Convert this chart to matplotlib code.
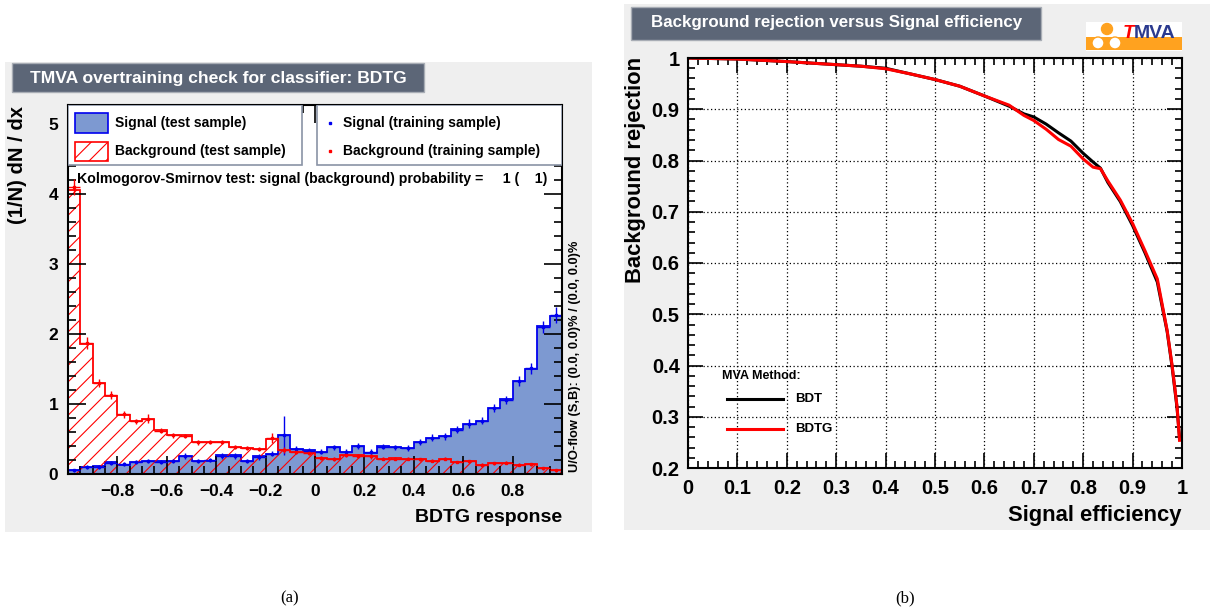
#Overtraining check (BDTG response) and ROC curve (BDT vs BDTG), TMVA style
import matplotlib
matplotlib.use("Agg")
import matplotlib.pyplot as plt
from matplotlib.patches import Rectangle, Ellipse
from matplotlib.ticker import MultipleLocator
import numpy as np

W, H = 1213, 614

# ---- left panel data: 40 bins from -1 to 1 ----
bin_edges = np.linspace(-1, 1, 41)
sig_test = [0.05, 0.10, 0.11, 0.17, 0.135, 0.17, 0.18, 0.18, 0.19, 0.25,
            0.19, 0.19, 0.265, 0.265, 0.19, 0.25, 0.29, 0.55, 0.36, 0.34,
            0.32, 0.385, 0.32, 0.40, 0.30, 0.395, 0.385, 0.375, 0.46, 0.52,
            0.54, 0.64, 0.71, 0.76, 0.94, 1.07, 1.33, 1.50, 2.11, 2.25]
bkg_test = [4.06, 1.85, 1.30, 1.12, 0.84, 0.76, 0.78, 0.625, 0.55, 0.55,
            0.45, 0.45, 0.46, 0.39, 0.375, 0.36, 0.50, 0.34, 0.32, 0.31,
            0.23, 0.22, 0.27, 0.265, 0.255, 0.22, 0.225, 0.215, 0.215, 0.18,
            0.215, 0.17, 0.18, 0.13, 0.15, 0.155, 0.13, 0.14, 0.08, 0.05]
sig_train = [0.05, 0.10, 0.10, 0.16, 0.14, 0.17, 0.18, 0.17, 0.19, 0.26,
             0.19, 0.20, 0.26, 0.26, 0.19, 0.24, 0.29, 0.55, 0.36, 0.33,
             0.32, 0.38, 0.32, 0.40, 0.31, 0.39, 0.38, 0.37, 0.46, 0.52,
             0.54, 0.63, 0.72, 0.76, 0.94, 1.06, 1.33, 1.51, 2.10, 2.27]
bkg_train = [4.10, 1.87, 1.30, 1.13, 0.85, 0.75, 0.79, 0.62, 0.55, 0.54,
             0.45, 0.46, 0.46, 0.39, 0.37, 0.36, 0.51, 0.34, 0.32, 0.30,
             0.23, 0.21, 0.27, 0.26, 0.25, 0.22, 0.22, 0.22, 0.21, 0.19,
             0.22, 0.17, 0.18, 0.13, 0.15, 0.16, 0.13, 0.14, 0.08, 0.05]
sig_err = [0.02, 0.03, 0.03, 0.03, 0.03, 0.03, 0.03, 0.03, 0.03, 0.04,
           0.03, 0.03, 0.04, 0.04, 0.03, 0.04, 0.04, 0.28, 0.04, 0.04,
           0.04, 0.04, 0.04, 0.04, 0.04, 0.04, 0.04, 0.04, 0.04, 0.05,
           0.05, 0.05, 0.07, 0.05, 0.06, 0.06, 0.07, 0.08, 0.09, 0.12]
bkg_err = [0.12, 0.08, 0.06, 0.06, 0.05, 0.04, 0.06, 0.04, 0.04, 0.03,
           0.03, 0.03, 0.03, 0.03, 0.03, 0.03, 0.07, 0.04, 0.03, 0.03,
           0.03, 0.03, 0.03, 0.03, 0.03, 0.02, 0.02, 0.02, 0.02, 0.02,
           0.02, 0.02, 0.02, 0.02, 0.02, 0.02, 0.02, 0.02, 0.02, 0.02]

# ---- right panel data: ROC curves ----
roc_eff = [0, 0.1, 0.2, 0.25, 0.3, 0.35, 0.4, 0.45, 0.5, 0.55, 0.6, 0.65,
           0.68, 0.7, 0.725, 0.75, 0.775, 0.8, 0.82, 0.835, 0.85, 0.875,
           0.9, 0.925, 0.95, 0.97, 0.98, 0.99, 0.995]
bdt_rej = [1.0, 0.998, 0.993, 0.990, 0.987, 0.984, 0.980, 0.969, 0.958,
           0.945, 0.926, 0.906, 0.891, 0.885, 0.871, 0.854, 0.838, 0.814,
           0.797, 0.785, 0.757, 0.72, 0.673, 0.62, 0.563, 0.466, 0.397,
           0.317, 0.26]
bdtg_rej = [1.0, 0.998, 0.993, 0.990, 0.987, 0.984, 0.979, 0.969, 0.958,
            0.945, 0.926, 0.908, 0.888, 0.878, 0.861, 0.841, 0.828, 0.803,
            0.787, 0.784, 0.76, 0.723, 0.677, 0.624, 0.569, 0.468, 0.40,
            0.32, 0.254]

plt.rcParams['font.family'] = ['Liberation Sans', 'DejaVu Sans']
plt.rcParams['hatch.linewidth'] = 0.8

fig = plt.figure(figsize=(W / 100, H / 100), dpi=100)
fig.patch.set_facecolor('white')


def box(x0, y0, x1, y1, **kw):
    # rectangle given in pixel coords (top-left origin)
    r = Rectangle((x0 / W, 1 - y1 / H), (x1 - x0) / W, (y1 - y0) / H,
                  transform=fig.transFigure, **kw)
    fig.add_artist(r)
    return r


def ftext(x, y, s, **kw):
    fig.text(x / W, 1 - y / H, s, **kw)


panel_grey = '#efefef'
title_grey = '#5c6677'
fmt_g = lambda v, p: f"{v:g}"

# panel backgrounds
box(5, 62, 592, 532, facecolor=panel_grey, edgecolor='none', zorder=-10)
box(624, 4, 1210, 530, facecolor=panel_grey, edgecolor='none', zorder=-10)

# title boxes
box(12, 63, 424, 92, facecolor=title_grey, edgecolor='#a8adb5', lw=1, zorder=2)
ftext(30, 78, "TMVA overtraining check for classifier: BDTG", color='white',
      fontsize=12.6, fontweight='bold', va='center', zorder=3)
box(631, 7, 1041, 40, facecolor=title_grey, edgecolor='#a8adb5', lw=1, zorder=2)
ftext(651, 23, "Background rejection versus Signal efficiency", color='white',
      fontsize=12.2, fontweight='bold', va='center', zorder=3)

# ---------------- left: overtraining check ----------------
ax = fig.add_axes([68 / W, 1 - 474 / H, 494 / W, 369 / H])
ax.set_facecolor('white')
ax.stairs(sig_test, bin_edges, fill=True, facecolor='#7d99d1', edgecolor='none')
ax.stairs(sig_test, bin_edges, color='#0000ee', lw=1.3)
ax.stairs(bkg_test, bin_edges, fill=True, facecolor='none', edgecolor='red',
          hatch='//', lw=0)
ax.stairs(bkg_test, bin_edges, color='red', lw=1.3)

centers = (bin_edges[:-1] + bin_edges[1:]) / 2
ax.errorbar(centers, sig_train, yerr=sig_err, xerr=0.025, fmt='s', ms=1.5,
            color='#0000ee', elinewidth=1, capsize=0)
ax.errorbar(centers, bkg_train, yerr=bkg_err, xerr=0.025, fmt='s', ms=1.5,
            color='red', elinewidth=1, capsize=0)

ax.set_xlim(-1, 1)
ax.set_ylim(0, 5.27)
ax.set_xticks([-0.8, -0.6, -0.4, -0.2, 0, 0.2, 0.4, 0.6, 0.8])
ax.xaxis.set_major_formatter(lambda v, p: f"{v:g}".replace('-', '\u2212'))
ax.xaxis.set_minor_locator(MultipleLocator(0.05))
ax.yaxis.set_major_locator(MultipleLocator(1))
ax.yaxis.set_minor_locator(MultipleLocator(0.2))
ax.tick_params(which='both', direction='in', top=True, right=True, width=1.2)
ax.tick_params(which='major', length=13, labelsize=12.5, pad=7)
ax.tick_params(which='minor', length=6)
for lab in ax.get_xticklabels() + ax.get_yticklabels():
    lab.set_fontweight('bold')
for s in ax.spines.values():
    s.set_linewidth(1.5)

# legends drawn by hand (two boxes across the top)
ax.add_patch(Rectangle((0, 0.837), 0.474, 0.163, transform=ax.transAxes,
                       facecolor='white', edgecolor='#8a94a6', lw=1.2, zorder=4))
ax.add_patch(Rectangle((0.504, 0.837), 0.496, 0.163, transform=ax.transAxes,
                       facecolor='white', edgecolor='#8a94a6', lw=1.2, zorder=4))
ax.add_patch(Rectangle((0.014, 0.924), 0.067, 0.054, transform=ax.transAxes,
                       facecolor='#7d99d1', edgecolor='#0000ee', lw=1.2, zorder=5))
ax.add_patch(Rectangle((0.014, 0.848), 0.067, 0.052, transform=ax.transAxes,
                       facecolor='white', edgecolor='red', hatch='//', lw=1.2, zorder=5))
leg_kw = dict(transform=ax.transAxes, fontsize=10, fontweight='bold',
              va='center', zorder=6)
ax.text(0.095, 0.951, "Signal (test sample)", **leg_kw)
ax.text(0.095, 0.874, "Background (test sample)", **leg_kw)
ax.plot([0.530], [0.951], 's', ms=1.8, color='#0000ee', transform=ax.transAxes, zorder=6)
ax.plot([0.530], [0.874], 's', ms=1.8, color='red', transform=ax.transAxes, zorder=6)
ax.text(0.557, 0.951, "Signal (training sample)", **leg_kw)
ax.text(0.557, 0.874, "Background (training sample)", **leg_kw)
ax.text(0.018, 0.800, "Kolmogorov-Smirnov test: signal (background) probability =     1 (    1)",
        transform=ax.transAxes, fontsize=10.2, fontweight='bold', va='center', zorder=6)

ftext(575, 472, "U/O-flow (S,B): (0.0, 0.0)% / (0.0, 0.0)%", rotation=90,
      fontsize=9.3, fontweight='bold', ha='center', va='bottom')
ftext(562, 517, "BDTG response", fontsize=14, fontweight='bold', ha='right', va='center')
ftext(18, 106, "(1/N) dN / dx", fontsize=14.5, fontweight='bold', rotation=90,
      ha='center', va='top')

# ---------------- right: ROC curve ----------------
ax2 = fig.add_axes([688 / W, 1 - 468 / H, 494 / W, 410 / H])
ax2.set_facecolor('white')
ax2.plot(roc_eff, bdt_rej, color='black', lw=2.2)
ax2.plot(roc_eff, bdtg_rej, color='red', lw=2.2)
ax2.set_xlim(0, 1)
ax2.set_ylim(0.2, 1)
ax2.xaxis.set_major_locator(MultipleLocator(0.1))
ax2.yaxis.set_major_locator(MultipleLocator(0.1))
ax2.xaxis.set_minor_locator(MultipleLocator(0.02))
ax2.yaxis.set_minor_locator(MultipleLocator(0.02))
ax2.xaxis.set_major_formatter(fmt_g)
ax2.yaxis.set_major_formatter(fmt_g)
ax2.grid(True, which='major', color='black', ls=(0, (1, 2)), lw=0.9)
ax2.tick_params(which='both', direction='in', top=True, right=True, width=1.2)
ax2.tick_params(which='major', length=11, labelsize=14.5, pad=6)
ax2.tick_params(axis='x', which='major', pad=8)
ax2.tick_params(which='minor', length=5)
for lab in ax2.get_xticklabels() + ax2.get_yticklabels():
    lab.set_fontweight('bold')
for s in ax2.spines.values():
    s.set_linewidth(1.5)

ax2.text(0.069, 0.224, "MVA Method:", transform=ax2.transAxes, fontsize=9,
         fontweight='bold', va='center')
ax2.plot([0.079, 0.192], [0.168, 0.168], color='black', lw=2.2, transform=ax2.transAxes)
ax2.plot([0.079, 0.192], [0.095, 0.095], color='red', lw=2.2, transform=ax2.transAxes)
ax2.text(0.217, 0.168, "BDT", transform=ax2.transAxes, fontsize=9.5,
         fontweight='bold', va='center')
ax2.text(0.217, 0.095, "BDTG", transform=ax2.transAxes, fontsize=9.5,
         fontweight='bold', va='center')

ftext(1181, 515, "Signal efficiency", fontsize=15.8, fontweight='bold', ha='right', va='center')
ftext(636, 57, "Background rejection", fontsize=15.8, fontweight='bold', rotation=90,
      ha='center', va='top')

# TMVA logo
box(1086, 22, 1182, 51, facecolor='white', edgecolor='none', zorder=2)
box(1086, 37, 1182, 50, facecolor='#ffa21f', edgecolor='none', zorder=3)
for cx, cy, d, fc in [(1107, 29, 11, '#ffa21f'), (1098, 43, 12, 'white'), (1115, 43, 12, 'white')]:
    fig.add_artist(Ellipse((cx / W, 1 - cy / H), d / W, d / H, transform=fig.transFigure,
                           facecolor=fc, edgecolor='#ffa21f', lw=1, zorder=4))
ftext(1123, 34, "T", color='red', fontsize=14, fontweight='bold', style='italic',
      va='center', zorder=5)
ftext(1134, 34, "MVA", color='#2b3a8f', fontsize=14, fontweight='bold', va='center', zorder=5)

# captions
ftext(290, 598, "(a)", fontsize=12, family='Liberation Serif', ha='center', va='center')
ftext(905, 598, "(b)", fontsize=12, family='Liberation Serif', ha='center', va='center')

plt.savefig("out.png", dpi=100)
